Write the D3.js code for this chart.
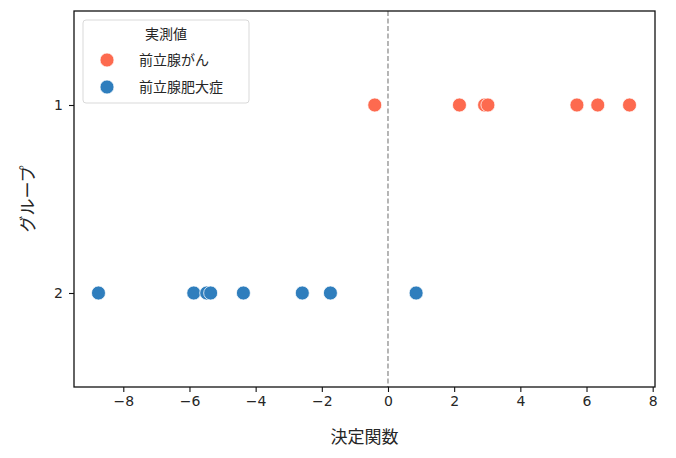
<!DOCTYPE html>
<html>
<head>
<meta charset="utf-8">
<script src="https://cdn.jsdelivr.net/npm/d3@7"></script>
<style>
  body { margin: 0; background: #fff; }
  text { font-family: "DejaVu Sans", "Noto Sans CJK JP", sans-serif; fill: #262626; }
  .jp { font-family: "Noto Sans CJK JP", "DejaVu Sans", sans-serif; }
</style>
</head>
<body>
<div id="chart"></div>
<script>
// data
var groups = [1, 2];
var seriesNames = ["前立腺がん", "前立腺肥大症"];
var cancerScores = [-0.40, 2.16, 2.92, 3.02, 5.71, 6.34, 7.30];
var bphScores = [-8.75, -5.87, -5.48, -5.36, -4.37, -2.59, -1.74, 0.85];
var xTicks = [-8, -6, -4, -2, 0, 2, 4, 6, 8];
var colors = ["#fd6a4f", "#2f7ebd"];

var width = 676, height = 458;
// plot area edges (don't use "top" - it's window.top)
var plotLeft = 74, plotRight = 655, plotTop = 11, plotBottom = 387;

var svg = d3.select("#chart").append("svg")
    .attr("width", width)
    .attr("height", height);

var xScale = d3.scaleLinear().domain([-9.49, 8.07]).range([plotLeft, plotRight]);
var yScale = d3.scaleLinear().domain([0.5, 2.5]).range([plotTop, plotBottom]);

// zero line
svg.append("line")
    .attr("x1", xScale(0)).attr("x2", xScale(0))
    .attr("y1", plotTop).attr("y2", plotBottom)
    .attr("stroke", "#7a7a7a")
    .attr("stroke-width", 1.1)
    .attr("stroke-dasharray", "5,2.5");

// points
var points = [];
cancerScores.forEach(function(v) { points.push({x: v, y: groups[0], s: 0}); });
bphScores.forEach(function(v) { points.push({x: v, y: groups[1], s: 1}); });

svg.selectAll("circle.pt").data(points).enter()
    .append("circle")
    .attr("class", "pt")
    .attr("cx", function(d) { return xScale(d.x); })
    .attr("cy", function(d) { return yScale(d.y); })
    .attr("r", 7)
    .attr("fill", function(d) { return colors[d.s]; })
    .attr("stroke", "#fff")
    .attr("stroke-width", 0.75);

// axes
var xAxis = d3.axisBottom(xScale).tickValues(xTicks).tickSize(5).tickPadding(4)
    .tickFormat(function(d) { return d < 0 ? "\u2212" + Math.abs(d) : d; });
var yAxis = d3.axisLeft(yScale).tickValues(groups).tickSize(5).tickPadding(6)
    .tickFormat(d3.format("d"));

var gx = svg.append("g").attr("transform", "translate(0," + plotBottom + ")").call(xAxis);
var gy = svg.append("g").attr("transform", "translate(" + plotLeft + ",0)").call(yAxis);
[gx, gy].forEach(function(g) {
  g.select(".domain").remove();
  g.selectAll("line").attr("stroke", "#111").attr("stroke-width", 1.1);
  g.selectAll("text").attr("font-size", 14).attr("fill", "#262626")
    .style("font-family", "DejaVu Sans, sans-serif");
});

// frame
svg.append("rect")
    .attr("x", plotLeft).attr("y", plotTop)
    .attr("width", plotRight - plotLeft).attr("height", plotBottom - plotTop)
    .attr("fill", "none")
    .attr("stroke", "#111")
    .attr("stroke-width", 1.3);

// axis labels
svg.append("text")
    .attr("class", "jp")
    .attr("x", (plotLeft + plotRight) / 2)
    .attr("y", 443)
    .attr("text-anchor", "middle")
    .attr("font-size", 17)
    .text("決定関数");

svg.append("text")
    .attr("class", "jp")
    .attr("transform", "translate(34," + (plotTop + plotBottom) / 2 + ") rotate(-90)")
    .attr("text-anchor", "middle")
    .attr("font-size", 17)
    .text("グループ");

// legend
var legend = svg.append("g");
legend.append("rect")
    .attr("x", 83).attr("y", 20)
    .attr("width", 166).attr("height", 83)
    .attr("rx", 3)
    .attr("fill", "#fff")
    .attr("fill-opacity", 0.8)
    .attr("stroke", "#d9d9d9");

legend.append("text")
    .attr("class", "jp")
    .attr("x", 166).attr("y", 39)
    .attr("text-anchor", "middle")
    .attr("font-size", 14)
    .text("実測値");

seriesNames.forEach(function(name, i) {
  var cy = 60 + i * 27;
  legend.append("circle")
    .attr("cx", 107).attr("cy", cy)
    .attr("r", 7)
    .attr("fill", colors[i])
    .attr("stroke", "#fff")
    .attr("stroke-width", 0.75);
  legend.append("text")
    .attr("class", "jp")
    .attr("x", 139).attr("y", cy + 5)
    .attr("font-size", 14)
    .text(name);
});
</script>
</body>
</html>
